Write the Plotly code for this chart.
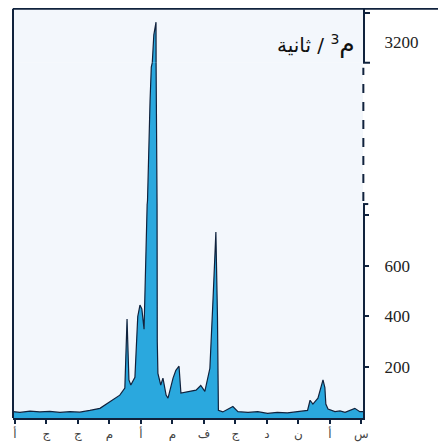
import plotly.graph_objects as go
from plotly.subplots import make_subplots

# month position: 0 = September (right edge) ... 11 = August (left edge)
month_labels = ["س", "أ", "ن", "د", "ج", "ف", "م", "أ", "م", "ج", "ج", "أ"]
month_pos = list(range(12))

t = [-0.05, 0.05, 0.21, 0.37, 0.52, 0.68, 0.84, 1.06, 1.13, 1.16, 1.22, 1.38,
     1.54, 1.63, 1.71, 2.03, 2.35, 2.67, 2.98, 3.29, 3.60, 3.92, 4.08, 4.40,
     4.54, 4.57, 4.62, 4.71, 4.81, 4.97, 5.10, 5.25, 5.44, 5.73, 5.79, 5.89,
     5.98, 6.14, 6.20, 6.30, 6.37, 6.46, 6.48, 6.49, 6.52, 6.59, 6.67, 6.71,
     6.79, 6.84, 6.90, 6.97, 7.03, 7.10, 7.19, 7.32, 7.38, 7.44, 7.51, 7.67,
     7.98, 8.30, 8.62, 8.94, 9.25, 9.57, 9.89, 10.21, 10.52, 10.84, 11.06]
flow = [25, 25, 38, 30, 22, 28, 25, 35, 55, 120, 150, 78,
        55, 70, 30, 25, 20, 22, 18, 25, 22, 25, 45, 24,
        30, 400, 733, 470, 196, 105, 128, 110, 106, 98, 204, 188,
        157, 78, 90, 157, 130, 176, 300, 1500, 3280, 3230, 3050, 2500,
        900, 600, 350, 430, 445, 400, 160, 130, 150, 390, 118, 90,
        65, 38, 30, 23, 25, 22, 26, 24, 27, 22, 25]

low_ticks = [200, 400, 600, 800]
low_labels = ["200", "400", "600", ""]
top_ticks = [3200]

dark = "#10223d"
fillc = "#2aa8de"

fig = make_subplots(rows=3, cols=1, shared_xaxes=True, vertical_spacing=0)
for r in (1, 2, 3):
    fig.add_trace(go.Scatter(x=t, y=flow, mode="lines", fill="tozeroy",
                             line=dict(color=dark, width=1.2), fillcolor=fillc,
                             hoverinfo="skip", showlegend=False), row=r, col=1)

H = 412.0
fig.update_layout(
    width=438, height=434,
    margin=dict(l=5, r=83, t=0, b=22),
    paper_bgcolor="white", plot_bgcolor="#f3f7fc",
    showlegend=False,
    yaxis=dict(domain=[357 / H, 1], range=[3120, 3336]),
    yaxis2=dict(domain=[215 / H, 357 / H], range=[843, 3120]),
    yaxis3=dict(domain=[0, 215 / H], range=[0, 843]),
)
fig.update_yaxes(side="right", showgrid=False, zeroline=False,
                 tickfont=dict(family="Liberation Serif", size=17, color="#222"))
fig.update_yaxes(row=3, col=1, tickvals=low_ticks, ticktext=low_labels,
                 ticks="outside", ticklen=4, tickwidth=2, tickcolor=dark,
                 showline=True, linecolor=dark, linewidth=2, ticklabelstandoff=12)
fig.update_yaxes(row=2, col=1, showticklabels=False, ticks="", showline=False)
fig.update_yaxes(row=1, col=1, tickvals=top_ticks, ticks="", ticklabelstandoff=16,
                 showline=True, linecolor=dark, linewidth=2)

fig.update_xaxes(range=[11.06, -0.05], showgrid=False, zeroline=False)
fig.update_xaxes(row=3, col=1, tickvals=month_pos, ticktext=month_labels,
                 ticks="outside", ticklen=4, tickwidth=2, tickcolor=dark,
                 showline=True, linecolor=dark, linewidth=2,
                 tickfont=dict(family="DejaVu Sans", size=12, color="#444"))
fig.update_xaxes(row=1, col=1, showticklabels=False, ticks="")
fig.update_xaxes(row=2, col=1, showticklabels=False, ticks="")

# frame + broken axis
fig.add_shape(type="line", xref="paper", yref="paper", x0=0, x1=0, y0=0, y1=0.998,
              line=dict(color=dark, width=2))
fig.add_shape(type="line", xref="paper", yref="paper", x0=0, x1=1.24, y0=0.998, y1=0.998,
              line=dict(color=dark, width=2))
fig.add_shape(type="line", xref="paper", yref="paper", x0=1.001, x1=1.001,
              y0=218 / H, y1=352 / H, line=dict(color=dark, width=2, dash="dash"))
for yy in (357 / H, 407 / H):
    fig.add_shape(type="line", xref="paper", yref="paper", x0=1.0, x1=1.02,
                  y0=yy, y1=yy, line=dict(color=dark, width=2))
fig.add_shape(type="line", xref="paper", yref="paper", x0=1.0, x1=1.015,
              y0=215 / H, y1=215 / H, line=dict(color=dark, width=2))

fig.add_annotation(xref="paper", yref="paper", x=0.983, y=(420 - 44) / H,
                   xanchor="right", yanchor="middle", showarrow=False,
                   text="<span style='font-size:25px'>م</span><sup>3</sup> / ثانية",
                   font=dict(family="DejaVu Sans", size=20, color="#111"))

fig.write_html("out.html")
